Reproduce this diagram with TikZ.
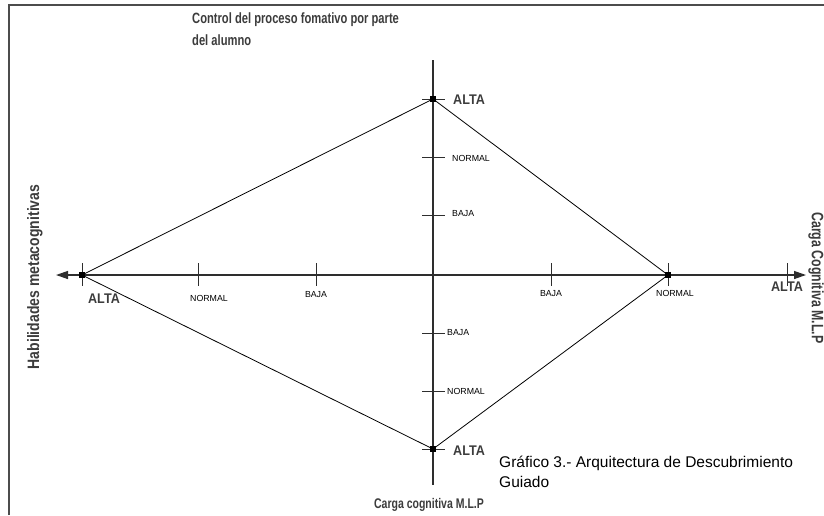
\documentclass[tikz,border=0pt]{standalone}
\usepackage{fontspec}
\setmainfont{Liberation Sans}
\newfontfamily\hdrfont[FakeStretch=0.75]{Liberation Sans}
\newfontfamily\widefont[FakeStretch=0.85]{Liberation Sans}
\newfontfamily\altafont[FakeStretch=0.9]{Liberation Sans}
\usetikzlibrary{arrows.meta}
\definecolor{ink}{HTML}{2E2E2E}
\definecolor{hdr}{HTML}{3C3C3C}
\tikzset{
  axis/.style={draw=ink, line width=1.3pt},
  edge/.style={draw=black, line width=0.8pt},
  tick/.style={draw=ink, line width=1pt},
  pt/.style={fill=black, minimum size=6pt, inner sep=0pt, rectangle},
  small/.style={font=\fontsize{8.8}{10}\selectfont, text=black, inner sep=0pt},
  alta/.style={font=\altafont\bfseries\fontsize{14}{16}\selectfont, text=hdr, inner sep=0pt},
  head/.style={font=\hdrfont\bfseries\fontsize{14.9}{22}\selectfont, text=hdr, inner sep=0pt, align=left},
  frame/.style={draw=black!70, line width=2pt}
}
\begin{document}
\begin{tikzpicture}[x=1pt, y=-1pt]
\useasboundingbox (0,0) rectangle (824,515);
% outer frame (top and left edges)
\draw[frame] (9,515) -- (9,5) -- (824,5);

% axis anchors
\coordinate (c) at (433,275);
\coordinate (xl) at (56,275);
\coordinate (xr) at (806,275);
\coordinate (yt) at (433,60);
\coordinate (yb) at (433,485);

% points of the diamond
\node[pt] (L) at (82,275) {};
\node[pt] (T) at (433,99) {};
\node[pt] (R) at (668,275) {};
\node[pt] (B) at (433,449) {};

% axes
\draw[axis, {Triangle[length=12pt,width=8pt]}-{Triangle[length=12pt,width=8pt]}] (xl) -- (xr);
\draw[axis] (yt) -- (yb);

% ticks on the horizontal axis
\foreach \x/\n in {82/ta, 198/tb, 316/tc, 551/td, 668/te, 787/tf}{
  \coordinate (\n1) at (\x,263);
  \coordinate (\n2) at (\x,286);
  \draw[tick] (\n1) -- (\n2);
}
% ticks on the vertical axis
\foreach \y/\n in {99/va, 157/vb, 215/vc, 333/vd, 391/ve, 449/vf}{
  \coordinate (\n1) at (422,\y);
  \coordinate (\n2) at (445,\y);
  \draw[tick] (\n1) -- (\n2);
}

% diamond
\draw[edge] (L.center) -- (T.center) -- (R.center) -- (B.center) -- cycle;
\node[pt] at (L) {};
\node[pt] at (T) {};
\node[pt] at (R) {};
\node[pt] at (B) {};

% labels on the horizontal axis
\node[alta] (la) at (104,299) {ALTA};
\node[small] (ln) at (209,298) {NORMAL};
\node[small] (lb) at (316,295) {BAJA};
\node[small] (rb) at (551,294) {BAJA};
\node[small] (rn) at (675,293) {NORMAL};
\node[alta] (ra) at (787,287) {ALTA};

% labels on the vertical axis
\node[alta, anchor=west] (ta) at (453,100) {ALTA};
\node[small, anchor=west] (tn) at (452,158) {NORMAL};
\node[small, anchor=west] (tb) at (452,214) {BAJA};
\node[small, anchor=west] (bb) at (447,333) {BAJA};
\node[small, anchor=west] (bn) at (447,391) {NORMAL};
\node[alta, anchor=west] (ba) at (453,451) {ALTA};

% axis titles
\node[head, anchor=north west] (top) at (192,12) {Control del proceso fomativo por parte\\del alumno};
\node[font=\widefont\bfseries\fontsize{16.5}{20}\selectfont, text=hdr, inner sep=0pt, rotate=90] (left) at (35,277) {Habilidades metacognitivas};
\node[font=\hdrfont\bfseries\fontsize{16.5}{20}\selectfont, text=hdr, inner sep=0pt, rotate=-90] (right) at (816,278) {Carga Cognitiva M.L.P};
\node[font=\hdrfont\bfseries\fontsize{14}{16}\selectfont, text=hdr, inner sep=0pt] (bottom) at (429,505) {Carga cognitiva M.L.P};

% caption
\node[anchor=north west, align=left, inner sep=0pt, font=\fontsize{15.5}{20}\selectfont] (cap) at (499,456) {Gráfico 3.- Arquitectura de Descubrimiento\\Guiado};
\end{tikzpicture}
\end{document}
